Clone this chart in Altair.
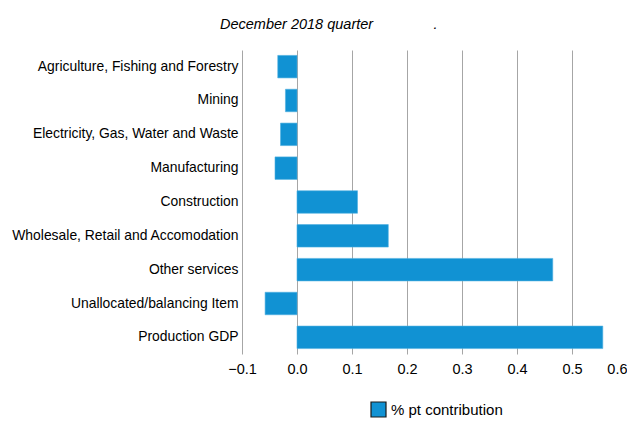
import altair as alt
import pandas as pd

categories = [
    "Agriculture, Fishing and Forestry",
    "Mining",
    "Electricity, Gas, Water and Waste",
    "Manufacturing",
    "Construction",
    "Wholesale, Retail and Accomodation",
    "Other services",
    "Unallocated/balancing Item",
    "Production GDP",
]
values = [-0.035, -0.021, -0.030, -0.040, 0.110, 0.166, 0.465, -0.058, 0.556]
series_name = "% pt contribution"
x_ticks = [-0.1, 0.0, 0.1, 0.2, 0.3, 0.4, 0.5, 0.6]
title_text = "December 2018 quarter" + "\u00a0" * 15 + "."

df = pd.DataFrame({"category": categories, "value": values, "series": [series_name] * len(categories)})

FONT = "Liberation Sans, Arial"
BAR = "#1192d3"

chart = alt.Chart(df).mark_bar(color=BAR, stroke="#4fb0e0", strokeWidth=0.6).encode(
    y=alt.Y("category:N", sort=categories, title=None,
            scale=alt.Scale(paddingInner=0.335, paddingOuter=0.16),
            axis=alt.Axis(ticks=False, domain=False, grid=False, labelPadding=4,
                          labelFontSize=13.9, labelFont=FONT, labelColor="#000000", labelLimit=300)),
    x=alt.X("value:Q", title=None,
            scale=alt.Scale(domain=[-0.1, 0.6], nice=False, zero=False),
            axis=alt.Axis(values=x_ticks, format=".1f", grid=True, gridColor="#a6a6a6", gridWidth=1,
                          domain=False, ticks=False, labelPadding=8, labelFontSize=14.5, labelFont=FONT,
                          labelColor="#000000", labelFlush=False,
                          labelAlign=alt.ExprRef(expr="datum.value >= 0.6 ? 'right' : 'center'"))),
    color=alt.Color("series:N", scale=alt.Scale(range=[BAR]), title=None,
                    legend=alt.Legend(orient="none", legendX=128, legendY=351,
                                      symbolType="square", symbolSize=225,
                                      symbolStrokeColor="#1a1a1a", symbolStrokeWidth=1.2,
                                      labelFontSize=15, labelFont=FONT, labelColor="#000000",
                                      labelOffset=4)),
).properties(
    width=385,
    height=304,
    title=alt.Title(title_text, anchor="start", frame="group",
                    dx=-22, fontSize=14.5, font=FONT, fontStyle="italic", fontWeight="normal",
                    color="#000000", offset=18),
    padding={"left": 234, "top": 42, "right": 0, "bottom": 65},
    autosize=alt.AutoSizeParams(type="none"),
).configure_view(stroke=None)

chart.save("out.html", embed_options={"renderer": "svg", "actions": False})
